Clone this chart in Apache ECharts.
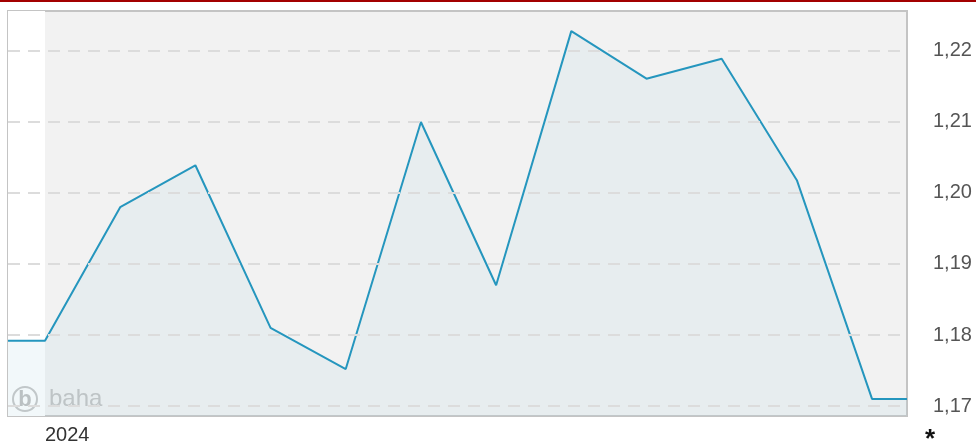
<!DOCTYPE html>
<html>
<head>
<meta charset="utf-8">
<script src="https://cdn.jsdelivr.net/npm/echarts@6/dist/echarts.min.js"></script>
<style>
  html, body { margin: 0; padding: 0; background: #fff; }
  #chart { width: 976px; height: 441px; }
</style>
</head>
<body>
<div id="chart"></div>
<script>
// Monthly closing prices, 2024
const months = ['2024-01', '2024-02', '2024-03', '2024-04', '2024-05', '2024-06',
                '2024-07', '2024-08', '2024-09', '2024-10', '2024-11', '2024-12'];
const prices = [1.1792, 1.1980, 1.2039, 1.1810, 1.1752, 1.2100,
                1.1870, 1.2228, 1.2161, 1.2189, 1.2018, 1.1710];
const yTicks = [1.17, 1.18, 1.19, 1.20, 1.21, 1.22];
const yearLabel = '2024';

// Visible window runs about half a month before the first and after the last point
const xMin = -0.492;
const xMax = 11.465;
const yMin = 1.16859;
const yMax = 1.22563;

const lastIdx = prices.length - 1;
const lineData = [[xMin, prices[0]]]
  .concat(prices.map((v, i) => [i, v]))
  .concat([[xMax, prices[lastIdx]]]);

const chart = echarts.init(document.getElementById('chart'), null, { renderer: 'canvas' });

chart.setOption({
  animation: false,
  backgroundColor: '#ffffff',
  grid: {
    left: 8, top: 11, width: 899, height: 405,
    outerBoundsMode: 'none',
    containLabel: false,
    show: true,
    backgroundColor: '#f2f2f2',
    borderColor: '#c4c4c4',
    borderWidth: 2
  },
  xAxis: {
    type: 'value',
    min: xMin,
    max: xMax,
    axisLine: { show: false },
    axisTick: { show: false },
    splitLine: { show: false },
    axisLabel: {
      customValues: [0],
      formatter: () => yearLabel,
      align: 'left',
      fontSize: 20,
      fontFamily: 'Liberation Sans, Arial, sans-serif',
      color: '#333',
      margin: 9
    }
  },
  yAxis: {
    type: 'value',
    position: 'right',
    min: yMin,
    max: yMax,
    axisLine: { show: false },
    axisTick: { show: false },
    splitLine: { show: false },
    axisLabel: {
      customValues: yTicks,
      formatter: v => v.toFixed(2).replace('.', ','),
      fontSize: 20,
      fontFamily: 'Liberation Sans, Arial, sans-serif',
      color: '#555',
      margin: 26,
      padding: [9, 0, 0, 0]
    }
  },
  graphic: [
    { type: 'rect', shape: { x: 0, y: 0, width: 976, height: 2 }, style: { fill: '#a30000' }, z: 10 },
    { type: 'circle', shape: { cx: 25, cy: 399, r: 12 }, style: { fill: 'none', stroke: '#c4c4c4', lineWidth: 2 }, z: 2 },
    { type: 'text', x: 25, y: 400, style: { text: 'b', font: 'bold 22px Liberation Sans, Arial, sans-serif', fill: '#bdbdbd', align: 'center', verticalAlign: 'middle' }, z: 2 },
    { type: 'text', x: 49, y: 399, style: { text: 'baha', font: '24px Liberation Sans, Arial, sans-serif', fill: '#c0c0c0', align: 'left', verticalAlign: 'middle' }, z: 2 },
    { type: 'text', x: 925, y: 427, style: { text: '*', font: 'bold 26px Liberation Sans, Arial, sans-serif', fill: '#111', align: 'left', verticalAlign: 'top' }, z: 10 }
  ],
  series: [
    {
      // previous-year band and dashed value grid
      type: 'line',
      data: [],
      z: 1,
      silent: true,
      markArea: {
        silent: true,
        itemStyle: { color: '#ffffff' },
        data: [[{ xAxis: xMin }, { xAxis: 0 }]]
      },
      markLine: {
        silent: true,
        symbol: ['none', 'none'],
        label: { show: false },
        lineStyle: { color: '#dcdcdc', width: 2, type: [12, 8] },
        data: yTicks.map(v => ({ yAxis: v }))
      }
    },
    {
      type: 'line',
      data: lineData,
      z: 3,
      symbol: 'none',
      lineStyle: { color: '#2596be', width: 2 },
      areaStyle: { origin: 'start', color: 'rgba(181,216,225,0.25)' }
    }
  ]
});
</script>
</body>
</html>
